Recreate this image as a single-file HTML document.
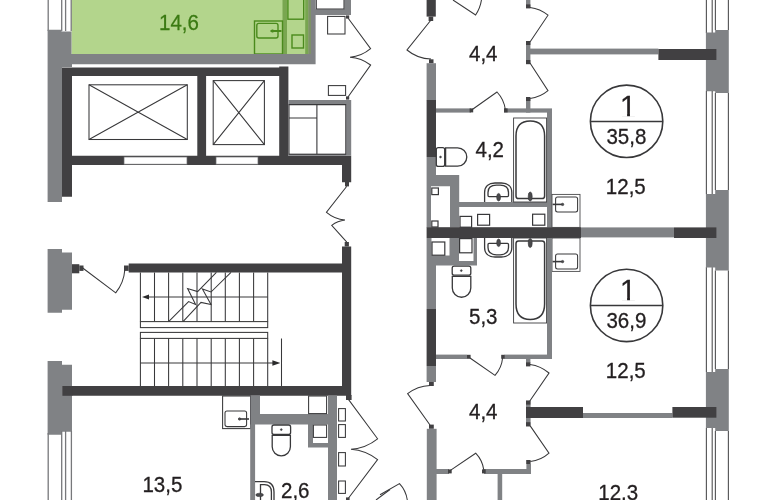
<!DOCTYPE html>
<html lang="ru">
<head>
<meta charset="utf-8">
<title>План этажа</title>
<style>
html,body{margin:0;padding:0;background:#fff;}
body{width:770px;height:500px;overflow:hidden;}
svg{display:block;will-change:transform;}
text{font-family:"Liberation Sans",Arial,sans-serif;fill:#231f20;stroke:#231f20;stroke-width:0.3;}
.d{fill:#414042;}
.g{fill:#808285;}
.l{fill:none;stroke:#38383a;stroke-width:1.05;}
.lt{fill:none;stroke:#3c3c3e;stroke-width:0.9;}
.lk{fill:none;stroke:#38383a;stroke-width:1.5;}
.lw{fill:#fff;stroke:#38383a;stroke-width:1.05;}
.wl{fill:none;stroke:#58585a;stroke-width:1.15;}
.wg{fill:none;stroke:#77787b;stroke-width:1.3;}
.gl{fill:none;stroke:#4a8a1c;stroke-width:1.4;}
.f{fill:#4a4a4c;stroke:#38383a;stroke-width:0.6;}
</style>
</head>
<body>
<svg width="770" height="500" viewBox="0 0 770 500">
<rect width="770" height="500" fill="#fff"/>

<!-- ===== top-left green apartment ===== -->
<g id="green">
<rect x="71.5" y="0" width="240" height="54.5" fill="#b3d58c"/>
<rect x="282.5" y="0" width="4.5" height="54.5" fill="#79a650"/>
<rect x="305.2" y="0" width="3" height="54.5" fill="#78a550"/><rect x="308.2" y="0" width="3.4" height="54.5" fill="#7d9168"/>
<rect class="gl" x="254.5" y="21" width="28" height="33"/>
<rect class="gl" x="256.8" y="23.4" width="21.2" height="14.6" rx="2"/>
<path class="gl" d="M270.5 31h11M272.5 29.6v2.8" style="stroke-width:1.8"/>
<rect class="gl" x="287.9" y="-1" width="15.8" height="20.2"/>
<rect class="gl" x="292" y="35" width="11.5" height="13"/>
<text transform="translate(159 29.7) scale(1 1.04)" font-size="20.5" style="fill:#3a7a12;stroke:#3a7a12;stroke-width:0.25">14,6</text>
</g>

<!-- left window top -->
<g id="winTL">
<rect x="48" y="0" width="23" height="31" fill="#fff"/>
<path class="wg" d="M48.2 0V31M61.7 0V31M65.6 0V31M71.2 0V31"/>
</g>

<!-- gray walls top-left -->
<path class="g" d="M47.6 29.8H61.5V31.6H71.5V54H311V0H315.6V64.3H72V67H62V202H47.6Z"/>
<path class="g" d="M315 9.3H344.3V0H351V15H315Z"/>
<path class="l" d="M316.3 0V9H344V0"/>

<!-- elevator block dark walls -->
<path class="d" fill-rule="evenodd" d="M62 67.6H279.2V66.6H288.4V155.8H351.2V182.2H342V165H72V196.7H62Z M72 76V155.8H197.3V76Z M206.1 76V155.8H279.2V76Z"/>
<rect x="124" y="157" width="63" height="7.2" fill="#fff" stroke="#6a6b6e" stroke-width="0.7"/>
<rect x="216" y="157" width="42" height="7.2" fill="#fff" stroke="#6a6b6e" stroke-width="0.7"/>
<g class="l">
<rect x="89" y="84.8" width="98.3" height="54.7"/>
<path d="M89 84.8L187.3 139.5M187.3 84.8L89 139.5"/>
<rect x="213.2" y="80.6" width="51.2" height="64"/>
<path d="M213.2 80.6L264.4 144.6M264.4 80.6L213.2 144.6"/>
</g>

<!-- gray box right of elevator -->
<g id="shaft">
<path class="g" d="M288.4 100H351.2V155.8H346.2V104.4H288.4Z"/>
<rect class="g" x="288.4" y="153.8" width="58" height="2"/>
<path class="l" d="M289 104.6H345.8V154.3H289ZM316.9 104.6V154.3M289 118H316.9" style="stroke-width:1.1"/>
</g>

<!-- small rects + double door top -->
<g class="l">
<rect x="327.6" y="16.4" width="17.4" height="17.6"/>
<rect x="328.4" y="85.6" width="17.2" height="9.8"/>
<path d="M348 18L370.6 48.6A38 38 0 0 1 350 57.3A39 39 0 0 1 370.6 65L348 97"/>
</g>
<rect class="d" x="346" y="15.4" width="3.2" height="3.2"/>
<rect class="d" x="346" y="96.4" width="3.2" height="3.2"/>

<!-- corridor door (zigzag) -->
<path class="l" d="M346.8 186.3L326.5 212.3A33 33 0 0 0 345 220A27 27 0 0 0 331.7 225.3L346.8 242.2"/>
<rect class="d" x="345" y="182" width="4" height="4.4"/>
<rect class="d" x="344.7" y="242" width="4.2" height="4.5"/>

<!-- stair hall walls -->
<path class="d" d="M128.7 263.4H342V246.5H351.2V395.8H62.4V386H342V272.4H128.7Z"/>
<rect class="d" x="346" y="395" width="5.6" height="5"/>
<path class="g" d="M47.6 249H62V252.5H72V309.7H62V312.8H47.6Z"/>
<path class="g" d="M47.6 361H62V364.8H72V431.8H62V434.8H47.6Z"/>
<rect class="d" x="62.4" y="386" width="10" height="9.8"/>

<rect class="d" x="72" y="264.2" width="7.3" height="9.1"/>
<rect class="d" x="79.3" y="265.5" width="4.2" height="5.4"/>
<rect class="d" x="124" y="265.5" width="4.7" height="5.4"/>
<path class="l" d="M82.7 268L115.7 292.8A41 41 0 0 0 124.8 270"/>

<!-- left bottom window -->
<g id="winBL">
<path class="wg" d="M48.2 433V500M61.7 431V500M65.6 431V500M71.4 431V500"/>
</g>

<!-- stairs -->
<g class="l" id="stairs">
<path d="M140.4 272.4V321.6M154.5 272.4V321.6M168.6 272.4V321.6M182.8 272.4V321.6M197 272.4V321.6M211.2 272.4V321.6M225.3 272.4V321.6M239.4 272.4V321.6M253.6 272.4V321.6M267.7 272.4V321.6"/>
<rect x="140.4" y="321.6" width="127.3" height="6"/>
<rect x="140.4" y="332.4" width="127.3" height="6"/>
<path d="M140.4 338.4V386M154.5 338.4V386M168.6 338.4V386M182.8 338.4V386M197 338.4V386M211.2 338.4V386M225.3 338.4V386M239.4 338.4V386M253.6 338.4V386M267.7 338.4V386"/>
<path d="M146 297H267.7M140.4 363H275M281.5 338.4V386"/>
<path d="M216.4 272.4L197.6 291.6 187.6 288.6 195.6 304.4 188.6 301.6 168.6 321.6M231 272.4L211 292 202.4 289 211 304.4 201 302.4 183 321.6"/>
</g>
<path d="M142 297L149 294.4V299.6Z" fill="#2a2a2b"/>
<path d="M280.4 363L272.4 360.3V365.7Z" fill="#2a2a2b"/>

<!-- bottom-left apartment -->
<text transform="translate(142.4 491.5) scale(1 1.04)" font-size="20.5">13,5</text>
<g id="bl">
<rect class="lw" x="222.6" y="396" width="28" height="32.6"/>
<rect class="l" x="225" y="411" width="21.6" height="15.6" rx="2"/>
<path class="l" d="M238.6 419h10.4" style="stroke-width:1.6"/><circle class="f" cx="239.6" cy="419" r="1.2"/>
<path class="g" d="M250.6 395.4H260V414H328V395.4H337V500H328V447.4H308V424.6H255.1V500H250.2V424.6H250.6Z M313 424.6V443H328V424.6Z"/>
<rect class="lw" x="308.6" y="396" width="18" height="17.6"/>
<rect class="lw" x="313.4" y="425" width="13.2" height="12.4"/>
<g class="l">
<rect x="338.6" y="408.6" width="6.8" height="12.4"/>
<rect x="338.6" y="424.6" width="6.8" height="12.8"/>
<rect x="338.6" y="452.6" width="6.8" height="13.4"/>
<rect x="338.6" y="481" width="6.8" height="12.4"/>
<path d="M348.6 399.6L377.6 438.8A48 48 0 0 1 351 449.2A48.8 48.8 0 0 1 377.6 459.6L348.4 498.2"/>
<path d="M376 500L390 489.5"/>
</g>
<rect class="d" x="346" y="497.4" width="3.6" height="3.5"/>
<!-- toilet -->
<g class="l" style="stroke-width:1.3">
<rect x="272" y="425" width="18.6" height="9.4" rx="2"/>
<path d="M272.2 435.4V446.8A9.1 9.1 0 0 0 290.4 446.8V435.4Z"/>
<circle class="f" cx="281.3" cy="429.6" r="0.9"/>
<path d="M255 481.6H264Q274 481.6 274 492V500M260.5 500V484.6H264.5Q271.4 484.6 271.4 492V500" stroke-width="1.3"/>
<ellipse class="f" cx="259.6" cy="494.9" rx="3.8" ry="1.7"/>
</g>
<text transform="translate(281 497.5) scale(1 1.04)" font-size="20.5">2,6</text>
</g>

<!-- ===== right side ===== -->
<!-- main vertical wall x 426.6-436 -->
<g id="spine">
<rect class="d" x="426.6" y="0" width="9.2" height="16.6"/>
<rect class="d" x="428.6" y="16.6" width="4.6" height="4.4"/>
<rect class="d" x="429" y="59.3" width="4.5" height="4"/>
<rect class="g" x="426.6" y="63.2" width="9.4" height="37"/>
<rect class="d" x="426.6" y="100" width="9.4" height="57"/>
<path class="g" d="M426.6 157H436V175H459.2V202H547V112H552V227.4H547V207H459.2V227.4H450V186.2H431V227.4H426.6Z"/>
<path class="g" d="M426.6 238H477V265.6H436V309H426.6Z"/>
<rect x="431.5" y="238" width="18" height="17.5" fill="#fff"/>
<rect x="459" y="238" width="14.5" height="23" fill="#fff"/>
<rect class="d" x="426.6" y="227.2" width="154.4" height="10.8"/>
<rect class="d" x="426.6" y="309" width="9.4" height="57"/>
<rect class="g" x="426.6" y="366" width="9.4" height="16"/>
<rect class="d" x="429" y="382" width="4.8" height="4"/>
<rect class="d" x="429" y="424.6" width="4.8" height="4.2"/>
<rect class="g" x="426.8" y="428.8" width="9.8" height="72"/>
</g>

<!-- hall top (4,4) -->
<g id="hallT">
<path class="l" d="M431 20L407 50A38.4 38.4 0 0 0 431 59"/>
<path class="l" d="M453 0L475.6 15A38 38 0 0 0 481.9 -6"/>
<rect class="g" x="526" y="0" width="4.4" height="7.8"/>
<rect class="d" x="526" y="4.4" width="4.4" height="4"/>
<path class="l" d="M530 7.4A34 34 0 0 1 548 15.2L530 42"/>
<rect class="g" x="526" y="41.6" width="4.4" height="22"/>
<rect class="d" x="526" y="41" width="4.4" height="4"/>
<rect class="d" x="526" y="60" width="4.4" height="4.2"/>
<rect class="g" x="530" y="48.6" width="128.4" height="5.8"/>
<path class="l" d="M530 63L548 90.6A34 34 0 0 1 530 98.4"/>
<rect class="g" x="526" y="98.3" width="4.4" height="14.3"/>
<rect class="d" x="526" y="97" width="4.4" height="4"/>
<rect class="g" x="436" y="108.4" width="35" height="4.2"/>
<rect class="g" x="504" y="108.4" width="48" height="4.2"/>
<rect class="d" x="469.6" y="108.4" width="3.6" height="4"/>
<rect class="d" x="504" y="108.4" width="3.6" height="4"/>
<path class="l" d="M471.6 110L497 92A31.5 31.5 0 0 1 505.4 110"/>
<text transform="translate(469 60.6) scale(1 1.04)" font-size="20.5">4,4</text>
</g>

<!-- right exterior wall + windows -->
<g id="ext">
<path class="wl" d="M706.4 0V33M712.2 0V33M715.4 0V30M728.4 0V30"/>
<path class="g" d="M705.9 32.6H715.2V30H728.8V93H715.2V91.2H705.9Z"/>
<path class="wl" d="M706.4 91V194M712.2 91V194M715.4 93V190M728.4 93V190"/>
<path class="g" d="M705.9 194H715.2V190H728.8V270.4H715.2V267.4H705.9Z"/>
<path class="wl" d="M706.4 267.3V372M712.2 267.3V372M715.4 270.4V369M728.4 270.4V369"/>
<path class="g" d="M705.9 372H715.2V369H728.8V431H715.2V428H705.9Z"/>
<path class="wl" d="M706.4 428V500M712.2 428V500M715.4 431V500M728.4 431V500"/>
<rect class="d" x="658.4" y="49" width="58" height="11"/>
<rect class="g" x="581" y="227.4" width="93" height="10"/>
<rect class="d" x="674" y="227.4" width="42.4" height="10.6"/>
<rect class="g" x="526" y="400.6" width="4.6" height="25.6"/>
<rect class="d" x="526" y="407" width="57" height="11"/>
<rect class="g" x="583" y="413" width="89.4" height="5"/>
<rect class="d" x="672.4" y="407" width="44" height="10.7"/>
</g>

<!-- apartment labels -->
<g id="labels">
<circle class="lw" cx="626.6" cy="121.3" r="36.2" style="stroke-width:1.6"/>
<path class="l" d="M590.4 121.4H662.8" style="stroke-width:1.5"/>
<text transform="translate(628 116) scale(1 1.04)" font-size="29" text-anchor="middle">1</text>
<path d="M621.4 112.9H627.1V116.8H621.4ZM629.95 112.9H635.4V116.8H629.95Z" fill="#fff"/>
<text transform="translate(626.4 143.6) scale(1 1.04)" font-size="20.5" text-anchor="middle">35,8</text>
<text transform="translate(625.8 194.2) scale(1 1.04)" font-size="20.5" text-anchor="middle">12,5</text>
<circle class="lw" cx="626.6" cy="305.4" r="36.2" style="stroke-width:1.6"/>
<path class="l" d="M590.4 305.5H662.8" style="stroke-width:1.5"/>
<text transform="translate(628 300) scale(1 1.04)" font-size="29" text-anchor="middle">1</text>
<path d="M621.4 296.9H627.1V300.8H621.4ZM629.95 296.9H635.4V300.8H629.95Z" fill="#fff"/>
<text transform="translate(626.4 327.5) scale(1 1.04)" font-size="20.5" text-anchor="middle">36,9</text>
<text transform="translate(625.8 378) scale(1 1.04)" font-size="20.5" text-anchor="middle">12,5</text>
<text transform="translate(618.2 499.8) scale(1 1.04)" font-size="20.5" text-anchor="middle">12,3</text>
</g>

<!-- bathroom top (4,2) -->
<g id="bathT">
<rect class="lt" x="513.6" y="118" width="33" height="84"/>
<path class="lk" d="M516 196V136Q516 121 530.2 121Q544.6 121 544.6 136V196Q544.6 198.6 542 198.6H518.6Q516 198.6 516 196Z"/>
<ellipse class="f" cx="530.2" cy="196.5" rx="2" ry="4.6"/>
<g class="l">
<!-- toilet -->
<rect x="436.3" y="147.6" width="8.4" height="18.8" rx="2" stroke-width="1.3"/>
<path d="M445.6 147.8H457.6A9.2 9.2 0 0 1 457.6 166.2H445.6Z" stroke-width="1.3"/>
<circle class="f" cx="440.5" cy="157" r="0.9"/>
<!-- basin -->
<path d="M484.6 202V192.5C484.6 186.5 488.6 183 495 183H501.4C507.8 183 511.8 186.5 511.8 192.5V202" stroke-width="1.3"/>
<path d="M488 195.6V192.4C488 187.6 491.2 185.2 496.4 185.2H500.1C505.3 185.2 508.5 187.6 508.5 192.4V195.6Q508.5 196.6 507.5 196.6H489Q488 196.6 488 195.6Z" stroke-width="1.3"/>
</g>
<ellipse class="f" cx="498.6" cy="197.2" rx="1.9" ry="3.8"/>
<g class="l" style="stroke-width:1.2">
<!-- small squares -->
<rect x="431.8" y="188" width="6.6" height="6.6"/>
<rect x="431.8" y="221" width="6.2" height="6"/>
<rect x="460" y="216.4" width="11.6" height="10.8"/>
<rect x="477.6" y="214.4" width="12" height="10.8"/>
<rect x="532.6" y="214.2" width="12.2" height="11"/>
</g>
<!-- kitchen sink -->
<rect class="lt" x="552" y="194.4" width="28" height="33" style="stroke:#4a4a4c"/>
<rect class="l" x="555.6" y="197" width="22" height="15" rx="2"/>
<path class="l" d="M552.6 204.4h10" style="stroke-width:1.6"/><circle class="f" cx="562.6" cy="204.4" r="1.2"/>
<text transform="translate(475.5 157) scale(1 1.04)" font-size="20.5">4,2</text>
</g>

<!-- bathroom bottom (5,3) -->
<g id="bathB">
<rect class="lt" x="513.6" y="238" width="33" height="85"/>
<path class="lk" d="M516 243.6V304Q516 319.4 530.2 319.4Q544.6 319.4 544.6 304V243.6Q544.6 241 542 241H518.6Q516 241 516 243.6Z"/>
<ellipse class="f" cx="530.2" cy="243" rx="2" ry="4.6"/>
<g class="l">
<!-- toilet -->
<rect x="452.2" y="266.2" width="18.6" height="9" rx="2" stroke-width="1.3"/>
<path d="M452.3 276.4V288A9.25 9.25 0 0 0 470.8 288V276.4Z" stroke-width="1.3"/>
<circle class="f" cx="461.3" cy="270.6" r="0.9"/>
<!-- basin -->
<path d="M484.6 238V247.5C484.6 253.5 488.6 257 495 257H501.4C507.8 257 511.8 253.5 511.8 247.5V238" stroke-width="1.3"/>
<path d="M488 244.4V247.6C488 252.4 491.2 254.8 496.4 254.8H500.1C505.3 254.8 508.5 252.4 508.5 247.6V244.4Q508.5 243.4 507.5 243.4H489Q488 243.4 488 244.4Z" stroke-width="1.3"/>
</g>
<ellipse class="f" cx="498.6" cy="242.8" rx="1.9" ry="3.8"/>
<g class="l" style="stroke-width:1.2">
<rect x="432" y="242" width="12.8" height="13.2"/>
<rect x="459.6" y="238.6" width="12.4" height="14.2"/>
</g>
<rect class="lt" x="552" y="238" width="28" height="33.4" style="stroke:#4a4a4c"/>
<rect class="l" x="555.6" y="254" width="22" height="15" rx="2"/>
<path class="l" d="M552.6 261.6h10" style="stroke-width:1.6"/><circle class="f" cx="562.6" cy="261.6" r="1.2"/>
<rect class="g" x="547" y="238" width="5" height="121"/>
<rect class="g" x="436" y="354.6" width="31" height="4.4"/>
<rect class="g" x="504.4" y="354.6" width="47.6" height="4.4"/>
<rect class="d" x="467" y="354.8" width="3.6" height="4"/>
<rect class="d" x="501.2" y="354.8" width="3.6" height="4"/>
<text transform="translate(469 323.6) scale(1 1.04)" font-size="20.5">5,3</text>
</g>

<!-- hall bottom (4,4) -->
<g id="hallB">
<path class="l" d="M470 358L495 375.4A30.5 30.5 0 0 0 502.6 358"/>
<path class="l" d="M430 385.4A39 39 0 0 0 407.6 393.6L430 425"/>
<rect class="g" x="526" y="359" width="4.4" height="4"/>
<rect class="d" x="526" y="362.4" width="4.4" height="4"/>
<path class="l" d="M530 364.4A36 36 0 0 1 549 373L529.8 401"/>
<rect class="d" x="526" y="400.6" width="4.4" height="4"/>
<rect class="d" x="526" y="422.2" width="4.4" height="4.2"/>
<path class="l" d="M530.2 425.9L549 453.2A33 33 0 0 1 530.3 461.5"/>
<rect class="d" x="526.2" y="460" width="4.4" height="4"/>
<rect class="g" x="526.4" y="464" width="4.6" height="10"/>
<rect class="g" x="436" y="469" width="13" height="5"/>
<rect class="g" x="484" y="469" width="47" height="5"/>
<rect class="d" x="448" y="469.4" width="3.7" height="4"/>
<rect class="d" x="482" y="469.4" width="3.7" height="4"/>
<path class="l" d="M450.4 470.4L475.7 453.2A30.5 30.5 0 0 1 483.8 470"/>
<rect class="g" x="497.6" y="474" width="4.6" height="26"/>
<path class="l" d="M380 494.8L399.5 483.6A30 30 0 0 1 407.3 500"/>
<text transform="translate(469 418.8) scale(1 1.04)" font-size="20.5">4,4</text>
</g>

</svg>
</body>
</html>
